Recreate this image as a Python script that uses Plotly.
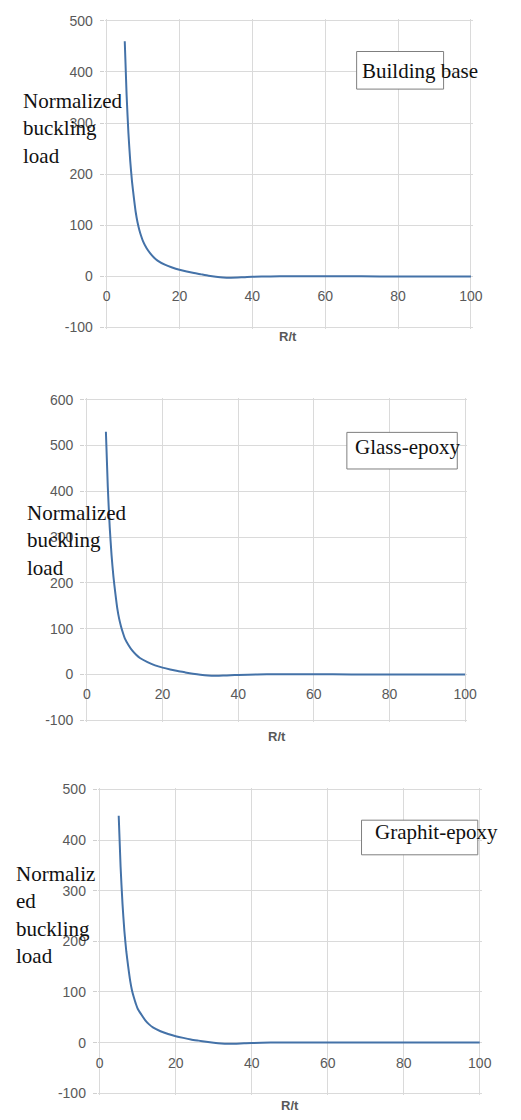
import plotly.graph_objects as go

W, H = 521, 1120

# ---- data ----
rt = [5, 5.5, 6, 6.5, 7, 7.5, 8, 8.5, 9, 9.5, 10, 11, 12, 13, 14, 16, 18, 20, 22, 24, 26, 28, 30, 32, 34, 36, 38, 40, 45, 50, 60, 70, 80, 90, 100]
building_base = [460, 356, 281, 226, 185, 154, 126, 106, 91, 79, 69, 55, 45, 37, 31, 23, 17.5, 13, 9.5, 6.5, 4, 1.5, -0.5, -2, -2.5, -2.2, -1.5, -0.8, 0, 0.3, 0.3, 0.1, 0, 0, 0]
glass_epoxy = [530, 410, 323, 260, 213, 177, 145, 122, 105, 91, 79, 64, 52, 43, 36, 27, 20, 15, 11, 7.5, 4.5, 1.7, -0.6, -2.3, -2.9, -2.5, -1.7, -0.9, 0, 0.4, 0.4, 0.1, 0, 0, 0]
graphit_epoxy = [448, 347, 274, 220, 180, 150, 123, 103, 89, 77, 67, 55, 44, 36, 30, 22.5, 17, 12.7, 9.3, 6.3, 3.9, 1.5, -0.5, -2, -2.4, -2.1, -1.5, -0.8, 0, 0.3, 0.3, 0.1, 0, 0, 0]

series_names = ["Building base", "Glass-epoxy", "Graphit-epoxy"]
series_values = [building_base, glass_epoxy, graphit_epoxy]
y_ranges = [[-100, 500], [-100, 600], [-100, 500]]
y_tickvals = [[-100, 0, 100, 200, 300, 400, 500],
              [-100, 0, 100, 200, 300, 400, 500, 600],
              [-100, 0, 100, 200, 300, 400, 500]]
y_ticktext = [["-100", "0", "100", "200", "300", "400", "500"],
              ["-100", "0", "100", "200", "300", "400", "500", "600"],
              ["-100", "0", "100", "200", "300", "400", "500"]]
x_range = [0, 100]
x_tickvals = [0, 20, 40, 60, 80, 100]
x_title = "R/t"
y_titles = ["Normalized<br>buckling<br>load", "Normalized<br>buckling<br>load", "Normaliz<br>ed<br>buckling<br>load"]

# ---- layout in pixels ----
def px(x):
    return x / W

def py(y):
    return 1 - y / H

panels = [
    dict(l=107, r=480, t=15, b=325, ytitle=(19, 124), box=(363, 452, 46, 84), label=(366, 66), rt=(293, 334)),
    dict(l=87, r=474, t=398, b=722, ytitle=(24, 540), box=(353, 466, 431, 468), label=(359, 446), rt=(281, 738)),
    dict(l=100, r=489, t=792, b=1099, ytitle=(12, 919), box=(368, 487, 823, 858), label=(380, 835), rt=(295, 1111)),
]
PAD = 2  # px of extra room so edge gridlines are drawn

grid = "#dadada"
tickfont = dict(family="Liberation Sans, Arial, sans-serif", size=14, color="#595959")
serif = dict(family="Liberation Serif, Times New Roman, serif", size=21, color="#111111")

fig = go.Figure()
shapes = []
annotations = []

for i, (p, name, vals, yr) in enumerate(zip(panels, series_names, series_values, y_ranges)):
    n = "" if i == 0 else str(i + 1)
    fig.add_trace(go.Scatter(x=rt, y=vals, mode="lines", name=name,
                             line=dict(color="#4472a8", width=2, shape="spline", smoothing=0.6),
                             xaxis="x" + n, yaxis="y" + n, showlegend=False))
    uy = (yr[1] - yr[0]) / (p["b"] - p["t"])
    ux = (x_range[1] - x_range[0]) / (p["r"] - p["l"])
    yr_pad = [yr[0] - PAD * uy, yr[1] + PAD * uy]
    xr_pad = [x_range[0] - PAD * ux, x_range[1] + PAD * ux]
    ydom = [py(p["b"] + PAD), py(p["t"] - PAD)]
    xdom = [px(p["l"] - PAD), px(p["r"] + PAD)]
    zero_pos = ydom[0] + (0 - yr_pad[0]) / (yr_pad[1] - yr_pad[0]) * (ydom[1] - ydom[0])
    fig.update_layout(**{
        "xaxis" + n: dict(domain=xdom, range=xr_pad, tickvals=x_tickvals,
                          anchor="free", position=zero_pos,
                          showgrid=True, gridcolor=grid, gridwidth=1, zeroline=False,
                          showline=False, ticks="", tickfont=tickfont, ticklabelstandoff=10,
                          fixedrange=True),
        "yaxis" + n: dict(domain=ydom, range=yr_pad, tickvals=y_tickvals[i], ticktext=y_ticktext[i],
                          anchor="x" + n,
                          showgrid=True, gridcolor=grid, gridwidth=1, zeroline=False,
                          showline=False, ticks="outside", ticklen=4, tickcolor="#d0d0d0",
                          tickfont=tickfont, ticklabelstandoff=4,
                          fixedrange=True),
    })
    x0, x1, y0, y1 = p["box"]
    shapes.append(dict(type="rect", xref="paper", yref="paper",
                       x0=px(x0), x1=px(x1), y0=py(y1), y1=py(y0),
                       line=dict(color="#7f7f7f", width=1), fillcolor="white", layer="above"))
    annotations.append(dict(text=name, xref="paper", yref="paper",
                            x=px(p["label"][0]), y=py(p["label"][1]),
                            xanchor="left", yanchor="middle", showarrow=False,
                            font=serif, align="left"))
    annotations.append(dict(text=y_titles[i], xref="paper", yref="paper",
                            x=px(p["ytitle"][0]), y=py(p["ytitle"][1]),
                            xanchor="left", yanchor="middle", showarrow=False,
                            font=serif, align="left"))
    annotations.append(dict(text="<b>" + x_title + "</b>", xref="paper", yref="paper",
                            x=px(p["rt"][0]), y=py(p["rt"][1]),
                            xanchor="center", yanchor="middle", showarrow=False,
                            font=dict(family="Liberation Sans, Arial, sans-serif", size=13, color="#595959")))

fig.update_layout(width=W, height=H, margin=dict(l=0, r=0, t=0, b=0),
                  paper_bgcolor="white", plot_bgcolor="white",
                  shapes=shapes, annotations=annotations)

fig.write_html("out.html", config={"displayModeBar": False})
